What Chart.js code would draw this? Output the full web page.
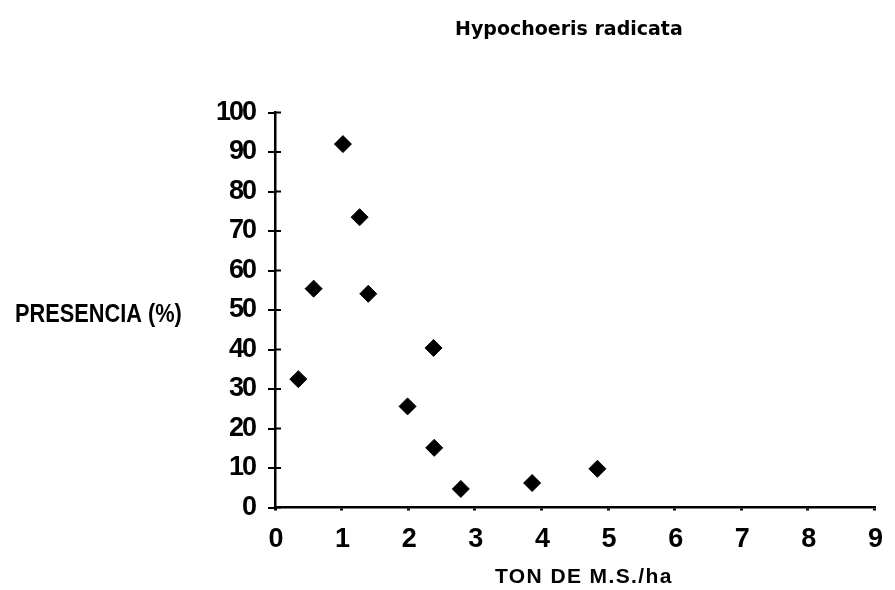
<!DOCTYPE html>
<html><head><meta charset="utf-8">
<script src="https://cdn.jsdelivr.net/npm/chart.js@4"></script>
<style>html,body{margin:0;padding:0;background:#fff;} canvas{display:block}</style>
</head><body>
<canvas id="c" width="895" height="590"></canvas>
<script>
const titleText = "Hypochoeris radicata";
const xAxisLabel = "TON DE M.S./ha";
const yAxisLabel = "PRESENCIA (%)";
const xValues = [0.35, 0.58, 1.02, 1.27, 1.40, 1.99, 2.38, 2.39, 2.79, 3.86, 4.84];
const yValues = [32.5, 55.4, 92.0, 73.5, 54.1, 25.6, 40.4, 15.1, 4.7, 6.2, 9.8];
const xTicks = [0, 1, 2, 3, 4, 5, 6, 7, 8, 9];
const yTicks = [0, 10, 20, 30, 40, 50, 60, 70, 80, 90, 100];

const points = xValues.map((x, i) => ({ x: x, y: yValues[i] }));
const tickFont = { family: '"Liberation Sans", sans-serif', size: 27, weight: 'bold' };

const deco = {
  id: 'deco',
  beforeDraw(chart) {
    const ctx = chart.ctx;
    ctx.save();
    ctx.fillStyle = '#fff';
    ctx.fillRect(0, 0, chart.width, chart.height);
    ctx.restore();
    ctx.letterSpacing = '-2px';
  },
  afterDraw(chart) {
    const ctx = chart.ctx;
    const ys = chart.scales.y;
    const xs = chart.scales.x;
    ctx.save();
    ctx.strokeStyle = '#000';
    ctx.lineWidth = 2;
    yTicks.forEach(v => {
      const p = ys.getPixelForValue(v);
      ctx.beginPath();
      ctx.moveTo(xs.left, p);
      ctx.lineTo(xs.left + 6, p);
      ctx.stroke();
    });
    ctx.fillStyle = '#000';
    ctx.textBaseline = 'alphabetic';
    ctx.textAlign = 'left';
    ctx.font = 'bold 19px "DejaVu Sans"';
    ctx.letterSpacing = '0px';
    ctx.fillText(titleText, 455, 35);
    ctx.font = 'bold 21px "Liberation Sans"';
    ctx.letterSpacing = '1.4px';
    ctx.fillText(xAxisLabel, 495, 583);
    ctx.letterSpacing = '0px';
    ctx.font = 'bold 25px "Liberation Sans"';
    ctx.translate(15, 322);
    ctx.scale(0.87, 1);
    ctx.fillText(yAxisLabel, 0, 0);
    ctx.restore();
  }
};

new Chart(document.getElementById('c'), {
  type: 'scatter',
  data: {
    datasets: [{
      data: points,
      pointStyle: 'rectRot',
      pointRadius: 8.5,
      backgroundColor: '#000',
      borderColor: '#000',
      borderWidth: 1
    }]
  },
  options: {
    responsive: false,
    devicePixelRatio: 1,
    animation: false,
    layout: { padding: { left: 0, right: 11, top: 112.5, bottom: 0 } },
    plugins: { legend: { display: false }, tooltip: { enabled: false }, title: { display: false } },
    scales: {
      x: {
        type: 'linear', min: 0, max: 9,
        afterBuildTicks: s => { s.ticks = xTicks.map(v => ({ value: v })); },
        afterFit: s => { s.height = 82.5; },
        grid: { drawOnChartArea: false, color: '#000', lineWidth: 3, tickLength: 3 },
        border: { color: '#000', width: 2.5 },
        ticks: { color: '#000', font: tickFont, padding: 13, maxRotation: 0 }
      },
      y: {
        type: 'linear', min: 0, max: 100,
        afterBuildTicks: s => { s.ticks = yTicks.map(v => ({ value: v })); },
        afterFit: s => { s.width = 275; },
        grid: { drawOnChartArea: false, color: '#000', lineWidth: 2, tickLength: 7 },
        border: { color: '#000', width: 2.5 },
        ticks: { color: '#000', font: tickFont, padding: 13 }
      }
    }
  },
  plugins: [deco]
});
</script>
</body></html>
